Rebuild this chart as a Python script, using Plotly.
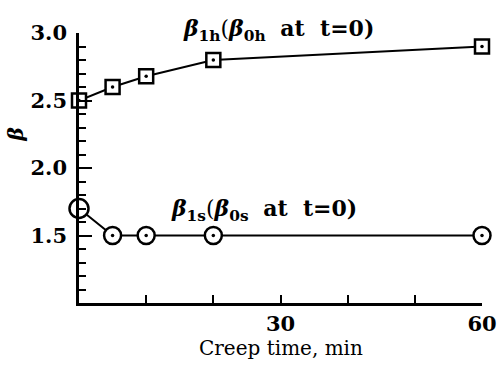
import plotly.graph_objects as go

# Creep time (min) and beta values
t_h = [0, 5, 10, 20, 60]
beta_h = [2.50, 2.60, 2.68, 2.80, 2.90]
t_s = [0, 5, 10, 20, 60]
beta_s = [1.70, 1.50, 1.50, 1.50, 1.50]

x_ticks = [10, 20, 30, 40, 50, 60]
x_ticktext = ["", "", "<b>30</b>", "", "", "<b>60</b>"]
y_ticks = [1.5, 2.0, 2.5, 3.0]
y_ticktext = ["<b>1.5</b>", "<b>2.0</b>", "<b>2.5</b>", "<b>3.0</b>"]

FONT = "DejaVu Serif"

fig = go.Figure()
fig.add_trace(go.Scatter(
    x=t_h, y=beta_h, mode="lines+markers", cliponaxis=False,
    line=dict(color="black", width=2),
    marker=dict(symbol="square", size=14, color="white", opacity=1,
                line=dict(width=2.5, color="black")),
))
fig.add_trace(go.Scatter(
    x=t_s, y=beta_s, mode="lines+markers", cliponaxis=False,
    line=dict(color="black", width=2),
    marker=dict(symbol="circle", size=[19, 17, 17, 17, 17], color="white",
                opacity=1, line=dict(width=2.5, color="black")),
))
# centre dots inside the markers (none in the first, larger circle)
fig.add_trace(go.Scatter(
    x=t_h + t_s[1:], y=beta_h + beta_s[1:], mode="markers", cliponaxis=False,
    marker=dict(symbol="circle", size=3.5, color="black", opacity=1),
))

fig.add_annotation(x=29.7, y=1.075, xref="x", yref="paper", showarrow=False,
                   text="<i><b>β</b></i><sub><b>1h</b></sub>(<i><b>β</b></i><sub><b>0h</b></sub> <b> at  t=0)</b>",
                   font=dict(family=FONT, size=22, color="black"))
fig.add_annotation(x=27.5, y=1.69, xref="x", yref="y", showarrow=False,
                   text="<i><b>β</b></i><sub><b>1s</b></sub>(<i><b>β</b></i><sub><b>0s</b></sub> <b> at  t=0)</b>",
                   font=dict(family=FONT, size=22, color="black"))

# axis titles
fig.add_annotation(x=0.5, y=-0.167, xref="paper", yref="paper", showarrow=False,
                   xanchor="center", yanchor="middle", text="Creep time, min",
                   font=dict(family=FONT, size=20, color="black"))
fig.add_annotation(x=-0.155, y=0.622, xref="paper", yref="paper", showarrow=False,
                   xanchor="center", yanchor="middle",
                   textangle=-90, text="<i><b>β</b></i>",
                   font=dict(family=FONT, size=20, color="black"))

fig.update_layout(
    width=499, height=366,
    margin=dict(l=79, r=17, t=33, b=63),
    paper_bgcolor="white", plot_bgcolor="white",
    showlegend=False,
    font=dict(family=FONT, color="black"),
)
fig.update_xaxes(
    range=[0, 60], showgrid=False, zeroline=False, automargin=False,
    showline=True, linecolor="black", linewidth=2.5,
    tickmode="array", tickvals=x_ticks, ticktext=x_ticktext,
    ticks="inside", ticklen=8, tickwidth=2, tickcolor="black",
    tickfont=dict(family=FONT, size=21, color="black"),
)
fig.update_yaxes(
    range=[1.0, 3.0], showgrid=False, zeroline=False, automargin=False,
    showline=True, linecolor="black", linewidth=2.5,
    tickmode="array", tickvals=y_ticks, ticktext=y_ticktext,
    ticks="inside", ticklen=13, tickwidth=2, tickcolor="black",
    ticklabelstandoff=5,
    tickfont=dict(family=FONT, size=21, color="black"),
    minor=dict(tickmode="linear", tick0=1.0, dtick=0.1, ticks="inside",
               ticklen=7, tickwidth=2, tickcolor="black"),
)

fig.write_html("out.html")
